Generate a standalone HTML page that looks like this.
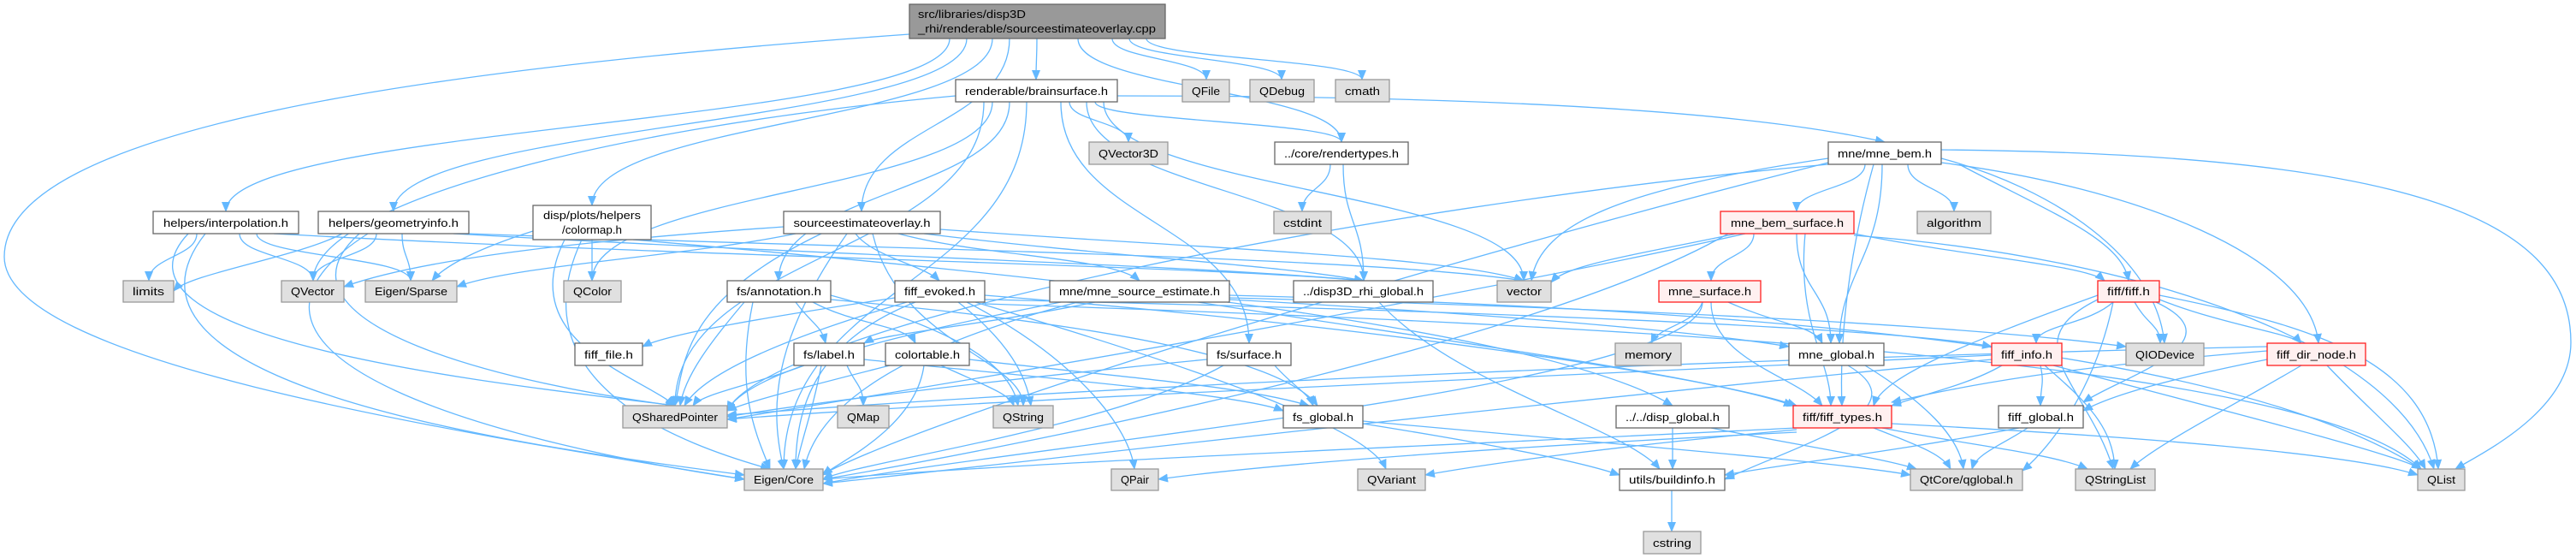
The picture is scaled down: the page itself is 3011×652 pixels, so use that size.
<!DOCTYPE html>
<html><head><meta charset="utf-8"><style>
html,body{margin:0;padding:0;background:#fff;}
svg{display:block;}
.e path{fill:none;stroke:#63b8ff;stroke-width:1.3;}
text{font-family:"Liberation Sans","DejaVu Sans",sans-serif;font-size:13px;fill:#000;}
.w{fill:#fff;stroke:#666;stroke-width:1.3;}
.g{fill:#e0e0e0;stroke:#999;stroke-width:1.3;}
.r{fill:#fff0f0;stroke:#ff2020;stroke-width:1.3;}
.m{fill:#999;stroke:#666;stroke-width:1.3;}
</style></head><body>
<svg width="3011" height="652" viewBox="0 0 3011 652" xmlns="http://www.w3.org/2000/svg">
<defs><marker id="a" markerWidth="12" markerHeight="10" refX="11" refY="5" orient="auto" markerUnits="userSpaceOnUse"><path d="M0,0 L12,5 L0,10 z" fill="#63b8ff"/></marker></defs>
<g class="e" marker-end="url(#a)">
<path marker-end="url(#a)" d="M1212 45 C1212 69 1211 69 1211 93"/>
<path marker-end="url(#a)" d="M1180 45 C1180 146 1007 146 1007 247"/>
<path marker-end="url(#a)" d="M1110 45 C1110 146 264 146 264 247"/>
<path marker-end="url(#a)" d="M1130 45 C1130 146 460 146 460 247"/>
<path marker-end="url(#a)" d="M1160 45 C1160 142 692 142 692 240"/>
<path marker-end="url(#a)" d="M1260 45 C1260 105 1568 105 1568 166"/>
<path marker-end="url(#a)" d="M1300 45 C1300 69 1410 69 1410 93"/>
<path marker-end="url(#a)" d="M1320 45 C1320 69 1498 69 1498 93"/>
<path marker-end="url(#a)" d="M1340 45 C1340 69 1592 69 1592 93"/>
<path marker-end="url(#a)" d="M1063 40 C500 80 5 150 5 300 C5 420 500 500 870 560"/>
<path marker-end="url(#a)" d="M1250 119 C1250 142 1319 142 1319 166"/>
<path marker-end="url(#a)" d="M1280 119 C1280 142 1568 142 1568 166"/>
<path marker-end="url(#a)" d="M1306 112 C1600 112 2000 120 2203 166"/>
<path marker-end="url(#a)" d="M1270 119 C1270 223 1594 223 1594 328"/>
<path marker-end="url(#a)" d="M1290 119 C1290 223 1781 223 1781 328"/>
<path marker-end="url(#a)" d="M1180 119 C1180 223 910 223 910 328"/>
<path marker-end="url(#a)" d="M1240 119 C1240 260 1460 260 1460 401"/>
<path marker-end="url(#a)" d="M1117 112 C700 150 366 240 366 328"/>
<path marker-end="url(#a)" d="M1200 119 C1200 333 916 333 916 548"/>
<path marker-end="url(#a)" d="M1150 119 C1150 296 789 296 789 474"/>
<path marker-end="url(#a)" d="M1160 119 C1160 223 692 223 692 328"/>
<path marker-end="url(#a)" d="M230 273 C230 300 174 300 174 328"/>
<path marker-end="url(#a)" d="M280 273 C280 300 366 300 366 328"/>
<path marker-end="url(#a)" d="M300 273 C300 300 480 300 480 328"/>
<path marker-end="url(#a)" d="M220 273 C100 400 600 450 789 474"/>
<path marker-end="url(#a)" d="M240 273 C100 450 600 520 870 555"/>
<path marker-end="url(#a)" d="M320 273 C800 300 1400 310 1594 328"/>
<path marker-end="url(#a)" d="M440 273 C440 300 366 300 366 328"/>
<path marker-end="url(#a)" d="M400 273 C350 300 220 320 203 340"/>
<path marker-end="url(#a)" d="M470 273 C470 300 480 300 480 328"/>
<path marker-end="url(#a)" d="M420 273 C300 380 600 450 789 474"/>
<path marker-end="url(#a)" d="M430 273 C200 420 600 520 870 560"/>
<path marker-end="url(#a)" d="M530 273 C1000 300 1400 310 1594 328"/>
<path marker-end="url(#a)" d="M548 273 C1000 290 1600 300 1781 328"/>
<path marker-end="url(#a)" d="M692 280 C692 304 692 304 692 328"/>
<path marker-end="url(#a)" d="M660 280 C600 400 750 440 789 474"/>
<path marker-end="url(#a)" d="M680 280 C600 450 800 520 900 548"/>
<path marker-end="url(#a)" d="M740 280 C1200 320 1800 380 1955 474"/>
<path marker-end="url(#a)" d="M623 270 C560 290 520 310 505 328"/>
<path marker-end="url(#a)" d="M1080 273 C1300 300 1500 310 1594 328"/>
<path marker-end="url(#a)" d="M1050 273 C1150 300 1300 300 1332 328"/>
<path marker-end="url(#a)" d="M916 265 C700 280 500 300 402 335"/>
<path marker-end="url(#a)" d="M930 273 C800 300 600 310 534 335"/>
<path marker-end="url(#a)" d="M1020 273 C1050 400 1196 420 1196 474"/>
<path marker-end="url(#a)" d="M960 273 C800 350 800 420 789 474"/>
<path marker-end="url(#a)" d="M990 273 C900 400 900 480 916 548"/>
<path marker-end="url(#a)" d="M1000 273 C1020 300 1080 310 1098 328"/>
<path marker-end="url(#a)" d="M1099 268 C1400 290 1700 300 1781 328"/>
<path marker-end="url(#a)" d="M1555 192 C1555 220 1522 220 1522 247"/>
<path marker-end="url(#a)" d="M1570 192 C1570 260 1594 260 1594 328"/>
<path marker-end="url(#a)" d="M1612 353 C1700 450 1900 500 1940 548"/>
<path marker-end="url(#a)" d="M2180 192 C2180 220 2100 220 2100 247"/>
<path marker-end="url(#a)" d="M2230 192 C2230 220 2284 220 2284 247"/>
<path marker-end="url(#a)" d="M2137 185 C1900 220 1800 260 1790 328"/>
<path marker-end="url(#a)" d="M2200 192 C2200 300 2150 320 2150 401"/>
<path marker-end="url(#a)" d="M2290 192 C2400 250 2480 280 2488 328"/>
<path marker-end="url(#a)" d="M2269 190 C2500 220 2700 300 2710 401"/>
<path marker-end="url(#a)" d="M2269 185 C2400 220 2520 300 2530 401"/>
<path marker-end="url(#a)" d="M2269 175 C2800 180 3005 250 3005 400 C3005 480 2900 530 2870 548"/>
<path marker-end="url(#a)" d="M2137 192 C1600 240 900 380 850 480"/>
<path marker-end="url(#a)" d="M2137 190 C1700 300 1100 480 960 555"/>
<path marker-end="url(#a)" d="M2190 192 C2160 300 2150 400 2153 474"/>
<path marker-end="url(#a)" d="M2050 273 C2050 300 2000 300 2000 328"/>
<path marker-end="url(#a)" d="M2100 273 C2100 340 2140 340 2140 401"/>
<path marker-end="url(#a)" d="M2110 273 C2100 380 2140 420 2140 474"/>
<path marker-end="url(#a)" d="M2030 273 C1900 300 1830 310 1813 330"/>
<path marker-end="url(#a)" d="M2167 273 C2300 300 2440 310 2460 328"/>
<path marker-end="url(#a)" d="M2167 275 C2500 300 2800 400 2845 548"/>
<path marker-end="url(#a)" d="M2020 273 C1800 400 1200 520 962 560"/>
<path marker-end="url(#a)" d="M2040 273 C1700 350 1100 450 850 490"/>
<path marker-end="url(#a)" d="M1990 353 C1980 380 1940 380 1930 401"/>
<path marker-end="url(#a)" d="M2020 353 C2080 380 2120 380 2130 401"/>
<path marker-end="url(#a)" d="M1990 353 C1990 450 1200 520 962 565"/>
<path marker-end="url(#a)" d="M2000 353 C2000 420 2100 440 2130 474"/>
<path marker-end="url(#a)" d="M2160 427 C2250 480 2100 520 2016 560"/>
<path marker-end="url(#a)" d="M2180 427 C2250 470 2290 510 2295 548"/>
<path marker-end="url(#a)" d="M2470 353 C2440 380 2380 380 2380 401"/>
<path marker-end="url(#a)" d="M2495 353 C2510 380 2525 380 2525 401"/>
<path marker-end="url(#a)" d="M2524 350 C2600 380 2680 390 2690 401"/>
<path marker-end="url(#a)" d="M2520 353 C2620 400 2480 440 2435 470"/>
<path marker-end="url(#a)" d="M2452 345 C2300 400 2200 440 2190 474"/>
<path marker-end="url(#a)" d="M2524 345 C2700 380 2840 420 2850 548"/>
<path marker-end="url(#a)" d="M2452 350 C2350 400 2440 450 2470 548"/>
<path marker-end="url(#a)" d="M2470 353 C2450 450 2400 520 2364 550"/>
<path marker-end="url(#a)" d="M2385 427 C2390 450 2385 450 2385 474"/>
<path marker-end="url(#a)" d="M2340 427 C2300 450 2250 460 2211 474"/>
<path marker-end="url(#a)" d="M2390 427 C2440 470 2470 500 2472 548"/>
<path marker-end="url(#a)" d="M2400 427 C2600 480 2800 530 2830 548"/>
<path marker-end="url(#a)" d="M2328 415 C1800 440 1100 470 850 490"/>
<path marker-end="url(#a)" d="M2328 420 C1700 480 1200 540 962 565"/>
<path marker-end="url(#a)" d="M2650 420 C2550 440 2470 460 2435 480"/>
<path marker-end="url(#a)" d="M2650 410 C2400 430 2300 450 2211 470"/>
<path marker-end="url(#a)" d="M2690 427 C2600 480 2520 520 2490 548"/>
<path marker-end="url(#a)" d="M2720 427 C2770 480 2820 520 2835 548"/>
<path marker-end="url(#a)" d="M2650 405 C2000 420 1300 450 850 485"/>
<path marker-end="url(#a)" d="M2360 500 C2200 530 2100 540 2016 555"/>
<path marker-end="url(#a)" d="M2370 500 C2340 520 2310 530 2305 548"/>
<path marker-end="url(#a)" d="M2100 500 C1700 520 1200 540 962 560"/>
<path marker-end="url(#a)" d="M2211 495 C2500 510 2750 530 2826 555"/>
<path marker-end="url(#a)" d="M2190 500 C2240 520 2270 530 2280 548"/>
<path marker-end="url(#a)" d="M2100 505 C1800 520 1500 540 1354 560"/>
<path marker-end="url(#a)" d="M2100 502 C1900 520 1750 540 1666 555"/>
<path marker-end="url(#a)" d="M2200 500 C2300 520 2400 530 2440 548"/>
<path marker-end="url(#a)" d="M950 353 C1000 380 1060 380 1070 401"/>
<path marker-end="url(#a)" d="M930 353 C950 380 960 380 965 401"/>
<path marker-end="url(#a)" d="M880 353 C860 450 880 500 900 548"/>
<path marker-end="url(#a)" d="M870 353 C830 400 800 440 795 474"/>
<path marker-end="url(#a)" d="M971 345 C1100 380 1180 420 1190 474"/>
<path marker-end="url(#a)" d="M971 350 C1300 380 1500 420 1540 474"/>
<path marker-end="url(#a)" d="M1046 348 C900 370 780 390 751 405"/>
<path marker-end="url(#a)" d="M1151 350 C1600 360 2200 380 2328 405"/>
<path marker-end="url(#a)" d="M1151 345 C1600 380 2000 440 2100 474"/>
<path marker-end="url(#a)" d="M1060 353 C900 400 820 440 800 474"/>
<path marker-end="url(#a)" d="M1070 353 C950 400 930 480 930 548"/>
<path marker-end="url(#a)" d="M1120 353 C1180 400 1200 440 1205 474"/>
<path marker-end="url(#a)" d="M1130 353 C1260 420 1320 500 1326 548"/>
<path marker-end="url(#a)" d="M1140 353 C1400 430 1600 500 1620 548"/>
<path marker-end="url(#a)" d="M1151 355 C1900 380 2700 420 2830 548"/>
<path marker-end="url(#a)" d="M1280 353 C1150 380 1030 390 1010 401"/>
<path marker-end="url(#a)" d="M1437 350 C1800 370 2000 390 2091 405"/>
<path marker-end="url(#a)" d="M1240 353 C1000 400 870 440 850 480"/>
<path marker-end="url(#a)" d="M1260 353 C1000 420 950 500 940 548"/>
<path marker-end="url(#a)" d="M1437 345 C2000 360 2600 400 2830 548"/>
<path marker-end="url(#a)" d="M1437 348 C1900 360 2300 380 2485 405"/>
<path marker-end="url(#a)" d="M1400 353 C1700 400 2000 440 2096 474"/>
<path marker-end="url(#a)" d="M990 427 C1000 450 1009 450 1009 474"/>
<path marker-end="url(#a)" d="M960 427 C950 480 935 520 930 548"/>
<path marker-end="url(#a)" d="M940 427 C880 450 820 460 810 474"/>
<path marker-end="url(#a)" d="M1010 420 C1200 440 1450 460 1500 480"/>
<path marker-end="url(#a)" d="M1100 427 C1150 450 1180 460 1185 474"/>
<path marker-end="url(#a)" d="M1080 427 C1070 500 980 540 962 555"/>
<path marker-end="url(#a)" d="M1040 427 C950 450 870 470 850 480"/>
<path marker-end="url(#a)" d="M1133 420 C1300 440 1450 450 1530 474"/>
<path marker-end="url(#a)" d="M1490 427 C1510 450 1530 460 1535 474"/>
<path marker-end="url(#a)" d="M1430 427 C1300 500 1000 540 962 560"/>
<path marker-end="url(#a)" d="M1411 420 C1200 440 950 470 850 487"/>
<path marker-end="url(#a)" d="M1593 495 C1750 520 1850 540 1893 555"/>
<path marker-end="url(#a)" d="M1593 492 C1900 520 2150 540 2233 555"/>
<path marker-end="url(#a)" d="M1955 500 C1955 520 1955 530 1955 548"/>
<path marker-end="url(#a)" d="M2000 500 C2100 520 2200 535 2240 548"/>
<path marker-end="url(#a)" d="M1954 573 C1954 597 1954 597 1954 621"/>
</g>
<g>
<rect class="m" x="1063" y="5" width="299" height="40"/>
<text x="1073" y="21" textLength="126" lengthAdjust="spacingAndGlyphs">src/libraries/disp3D</text>
<text x="1073" y="38" textLength="278" lengthAdjust="spacingAndGlyphs">_rhi/renderable/sourceestimateoverlay.cpp</text>

<rect class="w" x="1117" y="93" width="189" height="26"/><text x="1211.5" y="111" text-anchor="middle" textLength="167" lengthAdjust="spacingAndGlyphs">renderable/brainsurface.h</text>
<rect class="g" x="1382" y="93" width="55" height="26"/><text x="1409.5" y="111" text-anchor="middle" textLength="33" lengthAdjust="spacingAndGlyphs">QFile</text>
<rect class="g" x="1461" y="93" width="75" height="26"/><text x="1498.5" y="111" text-anchor="middle" textLength="53" lengthAdjust="spacingAndGlyphs">QDebug</text>
<rect class="g" x="1561" y="93" width="63" height="26"/><text x="1592.5" y="111" text-anchor="middle" textLength="41" lengthAdjust="spacingAndGlyphs">cmath</text>

<rect class="g" x="1273" y="166" width="92" height="26"/><text x="1319" y="184" text-anchor="middle" textLength="70" lengthAdjust="spacingAndGlyphs">QVector3D</text>
<rect class="w" x="1490" y="166" width="156" height="26"/><text x="1568" y="184" text-anchor="middle" textLength="134" lengthAdjust="spacingAndGlyphs">../core/rendertypes.h</text>
<rect class="w" x="2137" y="166" width="132" height="26"/><text x="2203" y="184" text-anchor="middle" textLength="110" lengthAdjust="spacingAndGlyphs">mne/mne_bem.h</text>

<rect class="w" x="179" y="247" width="170" height="26"/><text x="264" y="265" text-anchor="middle" textLength="146" lengthAdjust="spacingAndGlyphs">helpers/interpolation.h</text>
<rect class="w" x="372" y="247" width="176" height="26"/><text x="460" y="265" text-anchor="middle" textLength="152" lengthAdjust="spacingAndGlyphs">helpers/geometryinfo.h</text>
<rect class="w" x="623" y="240" width="138" height="40"/><text x="692" y="256" text-anchor="middle" textLength="114" lengthAdjust="spacingAndGlyphs">disp/plots/helpers</text><text x="692" y="273" text-anchor="middle" textLength="70" lengthAdjust="spacingAndGlyphs">/colormap.h</text>
<rect class="w" x="916" y="247" width="183" height="26"/><text x="1007.5" y="265" text-anchor="middle" textLength="160" lengthAdjust="spacingAndGlyphs">sourceestimateoverlay.h</text>
<rect class="g" x="1489" y="247" width="67" height="26"/><text x="1522.5" y="265" text-anchor="middle" textLength="45" lengthAdjust="spacingAndGlyphs">cstdint</text>
<rect class="r" x="2011" y="247" width="156" height="26"/><text x="2089" y="265" text-anchor="middle" textLength="132" lengthAdjust="spacingAndGlyphs">mne_bem_surface.h</text>
<rect class="g" x="2241" y="247" width="86" height="26"/><text x="2284" y="265" text-anchor="middle" textLength="64" lengthAdjust="spacingAndGlyphs">algorithm</text>

<rect class="g" x="144" y="328" width="59" height="25"/><text x="173.5" y="345" text-anchor="middle" textLength="37" lengthAdjust="spacingAndGlyphs">limits</text>
<rect class="g" x="329" y="328" width="73" height="25"/><text x="365.5" y="345" text-anchor="middle" textLength="51" lengthAdjust="spacingAndGlyphs">QVector</text>
<rect class="g" x="427" y="328" width="107" height="25"/><text x="480.5" y="345" text-anchor="middle" textLength="85" lengthAdjust="spacingAndGlyphs">Eigen/Sparse</text>
<rect class="g" x="659" y="328" width="67" height="25"/><text x="692.5" y="345" text-anchor="middle" textLength="45" lengthAdjust="spacingAndGlyphs">QColor</text>
<rect class="w" x="850" y="328" width="121" height="25"/><text x="910.5" y="345" text-anchor="middle" textLength="99" lengthAdjust="spacingAndGlyphs">fs/annotation.h</text>
<rect class="w" x="1046" y="328" width="105" height="25"/><text x="1098.5" y="345" text-anchor="middle" textLength="83" lengthAdjust="spacingAndGlyphs">fiff_evoked.h</text>
<rect class="w" x="1227" y="328" width="210" height="25"/><text x="1332" y="345" text-anchor="middle" textLength="188" lengthAdjust="spacingAndGlyphs">mne/mne_source_estimate.h</text>
<rect class="w" x="1512" y="328" width="163" height="25"/><text x="1593.5" y="345" text-anchor="middle" textLength="141" lengthAdjust="spacingAndGlyphs">../disp3D_rhi_global.h</text>
<rect class="g" x="1750" y="328" width="63" height="25"/><text x="1781.5" y="345" text-anchor="middle" textLength="41" lengthAdjust="spacingAndGlyphs">vector</text>
<rect class="r" x="1939" y="328" width="119" height="25"/><text x="1998.5" y="345" text-anchor="middle" textLength="97" lengthAdjust="spacingAndGlyphs">mne_surface.h</text>
<rect class="r" x="2452" y="328" width="72" height="25"/><text x="2488" y="345" text-anchor="middle" textLength="50" lengthAdjust="spacingAndGlyphs">fiff/fiff.h</text>

<rect class="w" x="672" y="401" width="79" height="26"/><text x="711.5" y="419" text-anchor="middle" textLength="57" lengthAdjust="spacingAndGlyphs">fiff_file.h</text>
<rect class="w" x="928" y="401" width="82" height="26"/><text x="969" y="419" text-anchor="middle" textLength="60" lengthAdjust="spacingAndGlyphs">fs/label.h</text>
<rect class="w" x="1035" y="401" width="98" height="26"/><text x="1084" y="419" text-anchor="middle" textLength="76" lengthAdjust="spacingAndGlyphs">colortable.h</text>
<rect class="w" x="1411" y="401" width="98" height="26"/><text x="1460" y="419" text-anchor="middle" textLength="76" lengthAdjust="spacingAndGlyphs">fs/surface.h</text>
<rect class="g" x="1888" y="401" width="77" height="26"/><text x="1926.5" y="419" text-anchor="middle" textLength="55" lengthAdjust="spacingAndGlyphs">memory</text>
<rect class="w" x="2091" y="401" width="111" height="26"/><text x="2146.5" y="419" text-anchor="middle" textLength="89" lengthAdjust="spacingAndGlyphs">mne_global.h</text>
<rect class="r" x="2328" y="401" width="82" height="26"/><text x="2369" y="419" text-anchor="middle" textLength="60" lengthAdjust="spacingAndGlyphs">fiff_info.h</text>
<rect class="g" x="2485" y="401" width="91" height="26"/><text x="2530.5" y="419" text-anchor="middle" textLength="69" lengthAdjust="spacingAndGlyphs">QIODevice</text>
<rect class="r" x="2650" y="401" width="115" height="26"/><text x="2707.5" y="419" text-anchor="middle" textLength="93" lengthAdjust="spacingAndGlyphs">fiff_dir_node.h</text>

<rect class="g" x="728" y="474" width="122" height="26"/><text x="789" y="492" text-anchor="middle" textLength="100" lengthAdjust="spacingAndGlyphs">QSharedPointer</text>
<rect class="g" x="979" y="474" width="60" height="26"/><text x="1009" y="492" text-anchor="middle" textLength="38" lengthAdjust="spacingAndGlyphs">QMap</text>
<rect class="g" x="1161" y="474" width="70" height="26"/><text x="1196" y="492" text-anchor="middle" textLength="48" lengthAdjust="spacingAndGlyphs">QString</text>
<rect class="w" x="1500" y="474" width="93" height="26"/><text x="1546.5" y="492" text-anchor="middle" textLength="71" lengthAdjust="spacingAndGlyphs">fs_global.h</text>
<rect class="w" x="1889" y="474" width="132" height="26"/><text x="1955" y="492" text-anchor="middle" textLength="110" lengthAdjust="spacingAndGlyphs">../../disp_global.h</text>
<rect class="r" x="2096" y="474" width="115" height="26"/><text x="2153.5" y="492" text-anchor="middle" textLength="93" lengthAdjust="spacingAndGlyphs">fiff/fiff_types.h</text>
<rect class="w" x="2336" y="474" width="99" height="26"/><text x="2385.5" y="492" text-anchor="middle" textLength="77" lengthAdjust="spacingAndGlyphs">fiff_global.h</text>

<rect class="g" x="870" y="548" width="92" height="25"/><text x="916" y="565" text-anchor="middle" textLength="70" lengthAdjust="spacingAndGlyphs">Eigen/Core</text>
<rect class="g" x="1299" y="548" width="55" height="25"/><text x="1326.5" y="565" text-anchor="middle" textLength="33" lengthAdjust="spacingAndGlyphs">QPair</text>
<rect class="g" x="1587" y="548" width="79" height="25"/><text x="1626.5" y="565" text-anchor="middle" textLength="57" lengthAdjust="spacingAndGlyphs">QVariant</text>
<rect class="w" x="1893" y="548" width="123" height="25"/><text x="1954.5" y="565" text-anchor="middle" textLength="101" lengthAdjust="spacingAndGlyphs">utils/buildinfo.h</text>
<rect class="g" x="2233" y="548" width="131" height="25"/><text x="2298.5" y="565" text-anchor="middle" textLength="109" lengthAdjust="spacingAndGlyphs">QtCore/qglobal.h</text>
<rect class="g" x="2426" y="548" width="93" height="25"/><text x="2472.5" y="565" text-anchor="middle" textLength="71" lengthAdjust="spacingAndGlyphs">QStringList</text>
<rect class="g" x="2826" y="548" width="55" height="25"/><text x="2853.5" y="565" text-anchor="middle" textLength="33" lengthAdjust="spacingAndGlyphs">QList</text>

<rect class="g" x="1921" y="621" width="67" height="26"/><text x="1954.5" y="639" text-anchor="middle" textLength="45" lengthAdjust="spacingAndGlyphs">cstring</text>
</g>
</svg>
</body></html>
